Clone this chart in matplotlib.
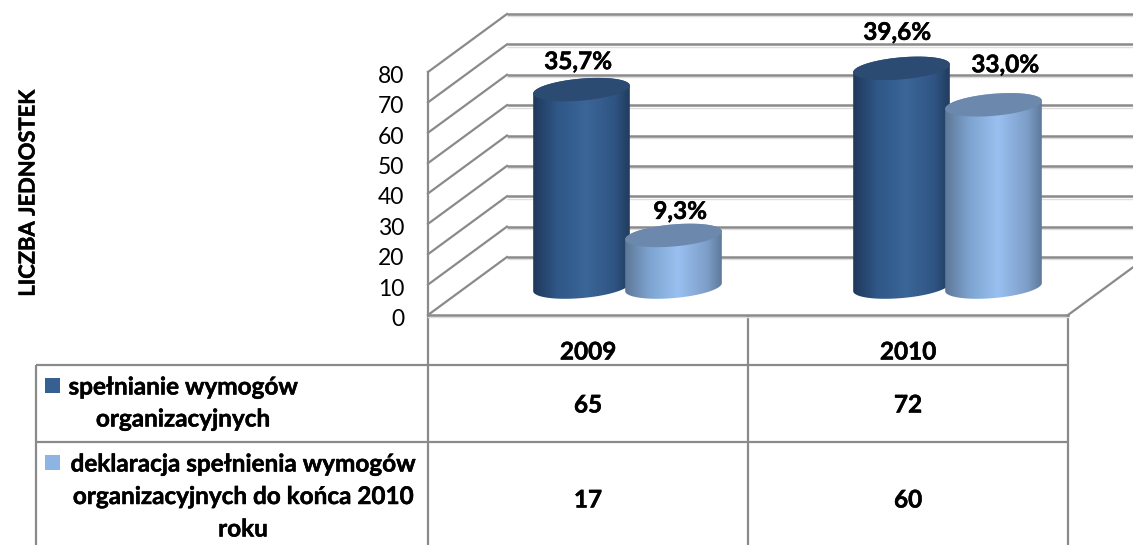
"""Cylinder chart with data table: organisational requirements, 2009 and 2010."""

from __future__ import annotations

import matplotlib
matplotlib.use("Agg")
import matplotlib.patheffects as pe
import matplotlib.pyplot as plt
from matplotlib.colors import LinearSegmentedColormap
from matplotlib.patches import PathPatch, Rectangle
from matplotlib.path import Path
from matplotlib.transforms import ScaledTranslation
import numpy as np

years = ["2009", "2010"]
series_1 = [65, 72]
series_2 = [17, 60]
percent_1 = ["35,7%", "39,6%"]
percent_2 = ["9,3%", "33,0%"]
legend_1 = ["spełnianie wymogów", "organizacyjnych"]
legend_2 = ["deklaracja spełnienia wymogów", "organizacyjnych do końca 2010", "roku"]
y_ticks = [0, 10, 20, 30, 40, 50, 60, 70, 80]

FONT = "Lato"
GRID = "#8a8a8a"
W, H = 1133, 545
LEFT, RIGHT, FLOOR, TOP = 428, 1068, 315, 72
PX_PER_UNIT = (FLOOR - TOP) / 80
DEPTH_X, DEPTH_Y = 79, 58 / PX_PER_UNIT
COL_X = [588, 908]

# Lato bold is a little lighter than the original face
HEAVY = [pe.withStroke(linewidth=0.35, foreground="black")]

DARK = LinearSegmentedColormap.from_list(
    "dark", [(0, "#20395a"), (0.25, "#2f5788"), (0.55, "#3b6698"), (0.85, "#2f5482"), (1, "#213c5e")]
)
LIGHT = LinearSegmentedColormap.from_list(
    "light", [(0, "#5d7897"), (0.25, "#7ea3d0"), (0.55, "#99c0f0"), (0.85, "#7d9ec8"), (1, "#5f7a99")]
)

fig = plt.figure(figsize=(W / 100, H / 100), dpi=100)

# table and texts in pixel coordinates
tab = fig.add_axes([0, 0, 1, 1])
tab.set_xlim(0, W)
tab.set_ylim(H, 0)
tab.axis("off")

# chart axes: x in pixels, y in chart units, front wall plane
ax = fig.add_axes([LEFT / W, (H - FLOOR) / H, (RIGHT - LEFT) / W, (FLOOR - TOP) / H])
ax.set_xlim(LEFT, RIGHT)
ax.set_ylim(0, 80)
ax.patch.set_alpha(0)
for side in ["top", "right", "bottom"]:
    ax.spines[side].set_visible(False)
ax.spines["left"].set_color(GRID)
ax.spines["left"].set_linewidth(1.6)
ax.set_xticks([])
ax.set_yticks(y_ticks)
ax.tick_params(axis="y", length=0, pad=17)
# tick labels sit about 2.5 px below the tick position
label_drop = ScaledTranslation(0, -2.5 / 100, fig.dpi_scale_trans)
for tick in ax.yaxis.get_major_ticks():
    tick.label1.set_fontfamily(FONT)
    tick.label1.set_fontsize(16.5)
    tick.label1.set_transform(tick.label1.get_transform() + label_drop)


def draw_walls() -> None:
    """Back wall grid, side wall diagonals and the floor."""
    for tick in y_ticks:
        ax.plot([LEFT, LEFT + DEPTH_X], [tick, tick + DEPTH_Y], color=GRID, lw=1.6, clip_on=False)
        ax.plot([LEFT + DEPTH_X, W], [tick + DEPTH_Y, tick + DEPTH_Y], color=GRID, lw=1.8,
                clip_on=False, solid_capstyle="butt")
        ax.plot([LEFT + DEPTH_X, W], [tick + DEPTH_Y - 0.8, tick + DEPTH_Y - 0.8], color="#dedede",
                lw=1.0, clip_on=False, solid_capstyle="butt", zorder=0.5)
    ax.plot([LEFT, RIGHT], [0, 0], color=GRID, lw=1.8, clip_on=False)
    ax.plot([LEFT, RIGHT], [-0.8, -0.8], color="#dedede", lw=1.0, clip_on=False, zorder=0.5)
    ax.plot([RIGHT, W], [0, DEPTH_Y * (W - RIGHT) / DEPTH_X], color=GRID, lw=1.6, clip_on=False)


def ellipse_points(cx: float, level: float, half_w: float = 48.5, half_h: float = 11.0) -> np.ndarray:
    """Tilted ellipse around (cx, level); the tilt is set in pixel space."""
    theta = np.linspace(0, 2 * np.pi, 121)[:-1]
    tilt = np.radians(5)
    dx = half_w * np.cos(theta) * np.cos(tilt) - half_h * np.sin(theta) * np.sin(tilt)
    dy = half_w * np.cos(theta) * np.sin(tilt) + half_h * np.sin(theta) * np.cos(tilt)
    return np.column_stack([cx + dx, level + dy / PX_PER_UNIT])


def draw_cylinder(cx: float, value: float, cmap, top_color: str, zorder: int) -> None:
    """One cylinder standing on the floor, behind the front plane."""
    base = 9.2
    top = base + value
    low, high = ellipse_points(cx, base), ellipse_points(cx, top)
    # body outline: lower half of the base ellipse, then the upper half of the top ellipse
    left_b, right_b = low[:, 0].argmin(), low[:, 0].argmax()
    under = np.roll(low, -left_b, axis=0)[: (right_b - left_b) % 120 + 1]
    left_t, right_t = high[:, 0].argmin(), high[:, 0].argmax()
    over = np.roll(high, -right_t, axis=0)[: (left_t - right_t) % 120 + 1]
    outline = np.vstack([under, over, under[:1]])
    body = PathPatch(Path(outline), fc="none", ec="none", zorder=zorder, transform=ax.transData)
    ax.add_patch(body)
    x0, x1 = outline[:, 0].min(), outline[:, 0].max()
    shade = np.linspace(0, 1, 200).reshape(1, -1)
    img = ax.imshow(shade, cmap=cmap, aspect="auto", zorder=zorder,
                    extent=[x0, x1, outline[:, 1].min(), outline[:, 1].max()])
    img.set_clip_path(body)
    img.set_clip_box(fig.bbox)
    ax.fill(high[:, 0], high[:, 1], color=top_color, lw=0, zorder=zorder + 0.5, clip_on=False)


def draw_cylinders() -> None:
    for i, (col, v1, v2) in enumerate(zip(COL_X, series_1, series_2)):
        draw_cylinder(col + DEPTH_X / 2 - 46, v1, DARK, "#2b4b72", 3 + 2 * i)
        draw_cylinder(col + DEPTH_X / 2 + 46, v2, LIGHT, "#6c89ad", 4 + 2 * i)
    ax.set_xlim(LEFT, RIGHT)
    ax.set_ylim(0, 80)


def draw_percent_labels() -> None:
    lift_1, shift_1 = [30, 38], [-10, -11]
    lift_2, shift_2 = [26, 42], [92, 97]
    for i, col in enumerate(COL_X):
        for value, text, lift, shift in (
            (series_1[i], percent_1[i], lift_1[i], shift_1[i]),
            (series_2[i], percent_2[i], lift_2[i], shift_2[i]),
        ):
            ax.text(col + shift, value + 9.2 + lift / PX_PER_UNIT, text, ha="center",
                    va="center_baseline", fontfamily=FONT, fontweight="bold", fontsize=17.5,
                    zorder=10, path_effects=HEAVY)


def draw_table() -> None:
    lines = [
        ((LEFT, LEFT), (FLOOR, H)),
        (((LEFT + RIGHT) / 2, (LEFT + RIGHT) / 2), (FLOOR, H)),
        ((RIGHT, RIGHT), (FLOOR, H)),
        ((36, 36), (365, H)),
        ((36, RIGHT), (365, 365)),
        ((36, RIGHT), (442, 442)),
    ]
    for xs, ys in lines:
        tab.plot(xs, ys, color=GRID, lw=1.6, solid_capstyle="butt")

    style = dict(ha="center", va="center_baseline", fontfamily=FONT, fontweight="bold",
                 fontsize=17.5, path_effects=HEAVY)
    for col, year, v1, v2 in zip(COL_X, years, series_1, series_2):
        tab.text(col, 350, year, **style)
        tab.text(col, 403, str(v1), **style)
        tab.text(col, 498, str(v2), **style)

    for i, line in enumerate(legend_1):
        tab.text(183, 385 + 32 * i, line, **style)
    for i, line in enumerate(legend_2):
        tab.text(243, 462 + 32.5 * i, line, **style)
    tab.add_patch(Rectangle((45, 378), 15, 15, fc="#376092", ec="none"))
    tab.add_patch(Rectangle((45, 455), 15, 15, fc="#8eb4e3", ec="none"))

    tab.text(28, 193, "LICZBA JEDNOSTEK", rotation=90, ha="center", va="center",
             fontfamily=FONT, fontweight="bold", fontsize=15.8, path_effects=HEAVY)


draw_walls()
draw_cylinders()
draw_percent_labels()
draw_table()

fig.savefig("out.png", dpi=100)
